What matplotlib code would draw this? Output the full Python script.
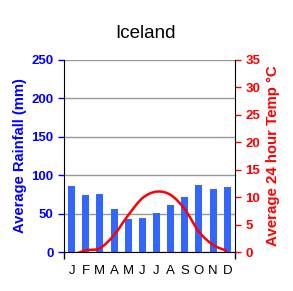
import numpy as np
from matplotlib import pyplot as plt
from matplotlib.path import Path
from matplotlib.patches import PathPatch

plt.rcParams['font.family'] = ['Liberation Sans', 'DejaVu Sans']

months = ['J', 'F', 'M', 'A', 'M', 'J', 'J', 'A', 'S', 'O', 'N', 'D']
rainfall = [86, 74, 76, 56, 43, 44, 51, 61, 72, 87, 82, 85]
temperature = [-0.6, 0.3, 0.7, 3.1, 6.7, 9.8, 11.0, 10.4, 7.8, 3.7, 1.3, 0.2]

BLUE = '#3366ff'


def smooth_path(x, y):
    """Catmull-Rom curve through the points, as bezier segments"""
    x = np.asarray(x, float)
    y = np.asarray(y, float)
    px = np.concatenate([[x[0]], x, [x[-1]]])
    py = np.concatenate([[y[0]], y, [y[-1]]])
    verts = [(x[0], y[0])]
    codes = [Path.MOVETO]
    for i in range(1, len(px) - 2):
        c1 = (px[i] + (px[i + 1] - px[i - 1]) / 6, py[i] + (py[i + 1] - py[i - 1]) / 6)
        c2 = (px[i + 1] - (px[i + 2] - px[i]) / 6, py[i + 1] - (py[i + 2] - py[i]) / 6)
        verts += [c1, c2, (px[i + 1], py[i + 1])]
        codes += [Path.CURVE4] * 3
    return Path(verts, codes)


fig = plt.figure(figsize=(2.93, 2.91), dpi=100)
ax = fig.add_axes([0.218, 0.134, 0.584, 0.66])
x = np.arange(len(months))

ax.bar(x, rainfall, width=0.5, color=BLUE, zorder=2)
ax.set_xlim(-0.55, 11.55)
ax.set_ylim(0, 250)
ax.set_yticks(range(0, 251, 50))
ax.yaxis.grid(True, color='#999999', linewidth=1)
ax.set_axisbelow(True)
ax.set_xticks(x)
ax.set_xticklabels(months, fontsize=9.5)
ax.set_xticks([-0.55, 11.55], minor=True)
ax.tick_params(axis='x', which='major', length=0, pad=9)
ax.tick_params(axis='x', which='minor', length=5, width=1)
ax.tick_params(axis='y', colors='blue', labelsize=9.5, length=4, width=1)
for lbl in ax.get_yticklabels():
    lbl.set_fontweight('bold')
ax.set_ylabel('Average Rainfall (mm)', color='blue', fontsize=10.6, fontweight='bold', labelpad=3)
for side in ['top', 'right']:
    ax.spines[side].set_visible(False)

ax2 = ax.twinx()
ax2.set_ylim(0, 35)
ax2.set_yticks(range(0, 36, 5))
ax2.tick_params(axis='y', colors='red', labelsize=9.5, length=4, width=1)
for lbl in ax2.get_yticklabels():
    lbl.set_fontweight('bold')
ax2.set_ylabel('Average 24 hour Temp \u00b0C', color='red', fontsize=10.8, fontweight='bold', labelpad=4)
for side in ['top', 'left', 'bottom']:
    ax2.spines[side].set_visible(False)
ax2.spines['right'].set_color('black')

patch = PathPatch(smooth_path(x, temperature), facecolor='none', edgecolor='red', linewidth=1.8, zorder=3)
ax2.add_patch(patch)

fig.text(0.495, 0.885, 'Iceland', ha='center', va='center', fontsize=13.5)

plt.savefig('out.png', dpi=100)
